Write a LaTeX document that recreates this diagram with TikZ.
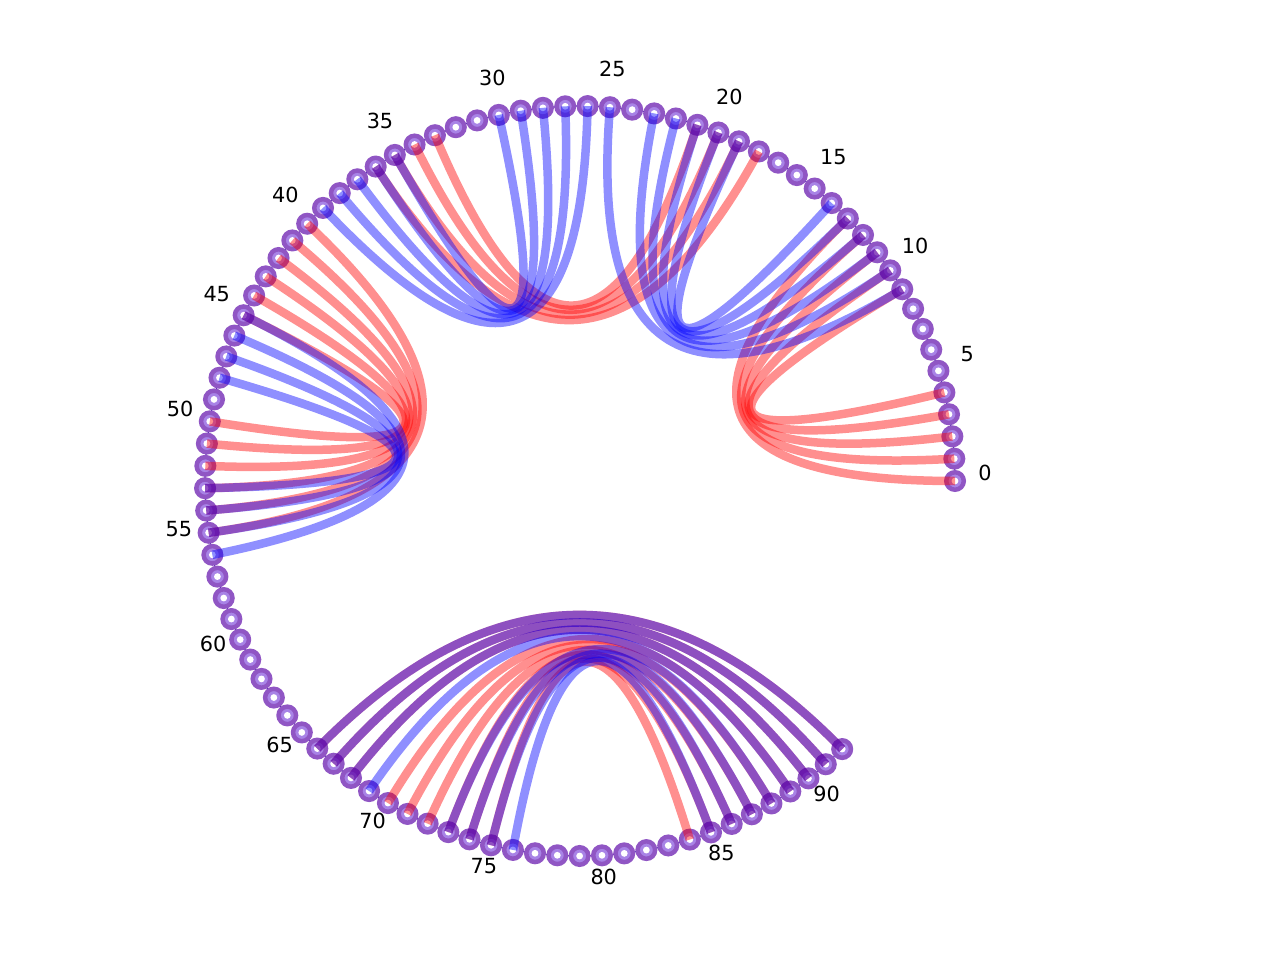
\documentclass[tikz,border=0pt]{standalone}
\usepackage{fontspec}
\setmainfont{DejaVu Sans}
\usetikzlibrary{calc}
\definecolor{vdark}{HTML}{9056C4}
\definecolor{vlight}{HTML}{A883E6}
\definecolor{vlink}{HTML}{4A22B0}
\tikzset{
  vtx/.style={circle, draw=vdark, line width=4.5pt, fill=vlight, minimum size=17.5pt, inner sep=0pt,
    path picture={\fill[white] (path picture bounding box.center) circle (3.4pt);}},
  lbl/.style={font=\fontsize{20.8}{25}\selectfont, inner sep=0pt},
  redge/.style={draw=red, draw opacity=0.44, line width=8.5pt},
  bedge/.style={draw=blue, draw opacity=0.44, line width=8.5pt},
  ring/.style={draw=vlink, line width=1.2pt}
}
\begin{document}
\begin{tikzpicture}[x=1pt, y=-1pt]
\useasboundingbox (0,0) rectangle (1280,960);
\coordinate (o) at (580,481);
% ring line between consecutive nodes
\draw[ring] plot[domain=0:92*3.417, samples=200] ({580+375*cos(\x)}, {481-375*sin(\x)});
% nodes
\foreach \i in {0,...,92}{
  \pgfmathsetmacro{\ang}{\i*3.417}
  \node[vtx] (v\i) at ({580+375*cos(\ang)}, {481-375*sin(\ang)}) {};
}
% labels
\foreach \i in {0,5,...,90}{
  \pgfmathsetmacro{\ang}{\i*3.417}
  \node[lbl] (l\i) at ({580+405*cos(\ang)}, {473-405*sin(\ang)}) {\i};
}
% red edges
\foreach \a/\b in {0/13,1/12,2/11,3/10,4/9,33/21,34/20,35/19,36/18,40/55,41/54,42/53,43/52,44/51,45/50,66/92,67/91,68/90,70/89,71/88,72/87,73/86,74/85,75/84}{
  \draw[redge] (v\a.center) .. controls ($(v\a.center)!0.6667!(o)$) and ($(v\b.center)!0.6667!(o)$) .. (v\b.center);
}
% blue edges
\foreach \a/\b in {10/23,11/22,12/21,13/20,14/19,9/25,26/39,27/38,28/37,29/36,30/35,45/56,46/55,47/54,48/53,66/92,67/91,68/90,69/89,73/88,74/87,75/86,76/85}{
  \draw[bedge] (v\a.center) .. controls ($(v\a.center)!0.6667!(o)$) and ($(v\b.center)!0.6667!(o)$) .. (v\b.center);
}
\end{tikzpicture}
\end{document}
